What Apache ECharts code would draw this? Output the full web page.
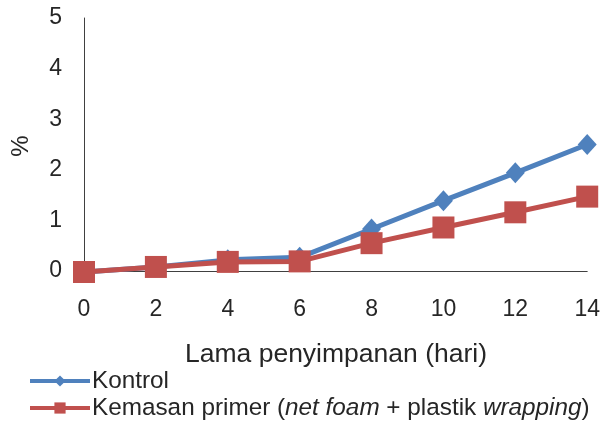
<!DOCTYPE html>
<html><head><meta charset="utf-8">
<script src="https://cdn.jsdelivr.net/npm/echarts@6/dist/echarts.min.js"></script>
<style>html,body{margin:0;padding:0;background:#fff}#c{width:603px;height:424px}</style>
</head><body><div id="c"></div>
<script>
const days = [0, 2, 4, 6, 8, 10, 12, 14];
const kontrol = [-0.02, 0.08, 0.22, 0.27, 0.83, 1.39, 1.94, 2.5];
const kemasan = [-0.02, 0.08, 0.18, 0.19, 0.55, 0.86, 1.16, 1.47];
const seriesNames = ['Kontrol', 'Kemasan primer (net foam + plastik wrapping)'];
const xTitle = 'Lama penyimpanan (hari)';
const yTitle = '%';

const FONT = '"Liberation Sans", Arial, sans-serif';
const TXT = '#262626';
const chart = echarts.init(document.getElementById('c'), null, {renderer: 'canvas'});
chart.setOption({
  animation: false,
  backgroundColor: '#fff',
  textStyle: {fontFamily: FONT, color: TXT},
  grid: {left: 84, right: 15, top: 18, bottom: 153, containLabel: false},
  xAxis: {
    type: 'value', min: 0, max: 14, interval: 2,
    axisLine: {show: true, onZero: false, lineStyle: {color: '#404040', width: 1}},
    axisTick: {show: false}, splitLine: {show: false},
    axisLabel: {fontSize: 23, color: TXT, margin: 27, fontFamily: FONT}
  },
  yAxis: {
    type: 'value', min: 0, max: 5, interval: 1,
    axisLine: {show: true, lineStyle: {color: '#404040', width: 1}},
    axisTick: {show: false}, splitLine: {show: false},
    axisLabel: {fontSize: 23, color: TXT, margin: 22, fontFamily: FONT}
  },
  graphic: [
    {type: 'text', x: 185, y: 355, style: {text: xTitle, font: '26.5px ' + FONT, fill: TXT, verticalAlign: 'middle', align: 'left'}},
    {type: 'text', x: 21, y: 146, rotation: Math.PI / 2, style: {text: yTitle, font: '24px ' + FONT, fill: TXT, align: 'center', verticalAlign: 'middle'}}
  ],
  legend: {
    orient: 'vertical', left: 28, top: 369, itemWidth: 60, itemHeight: 14, itemGap: 3, padding: 0,
    data: seriesNames,
    textStyle: {fontSize: 24, color: TXT, fontFamily: FONT, padding: [0, 0, 0, -3],
      rich: {n: {fontSize: 24.3, color: TXT, fontFamily: FONT}, i: {fontSize: 24.3, color: TXT, fontStyle: 'italic', fontFamily: FONT}}},
    lineStyle: {width: 4},
    formatter: function (name) {
      if (name === seriesNames[1]) return '{n|Kemasan primer (}{i|net foam}{n| + plastik }{i|wrapping}{n|)}';
      return '{n|' + name + '}';
    }
  },
  series: [
    {name: seriesNames[0], type: 'line', clip: false, data: days.map((d, i) => [d, kontrol[i]]),
      symbol: 'diamond', symbolSize: [19, 21], color: '#4F81BD',
      lineStyle: {width: 5, color: '#4F81BD'}, itemStyle: {color: '#4F81BD'}},
    {name: seriesNames[1], type: 'line', clip: false, data: days.map((d, i) => [d, kemasan[i]]),
      symbol: 'rect', symbolSize: 22, color: '#C0504D',
      lineStyle: {width: 5, color: '#C0504D'}, itemStyle: {color: '#C0504D'}}
  ]
});
</script></body></html>
